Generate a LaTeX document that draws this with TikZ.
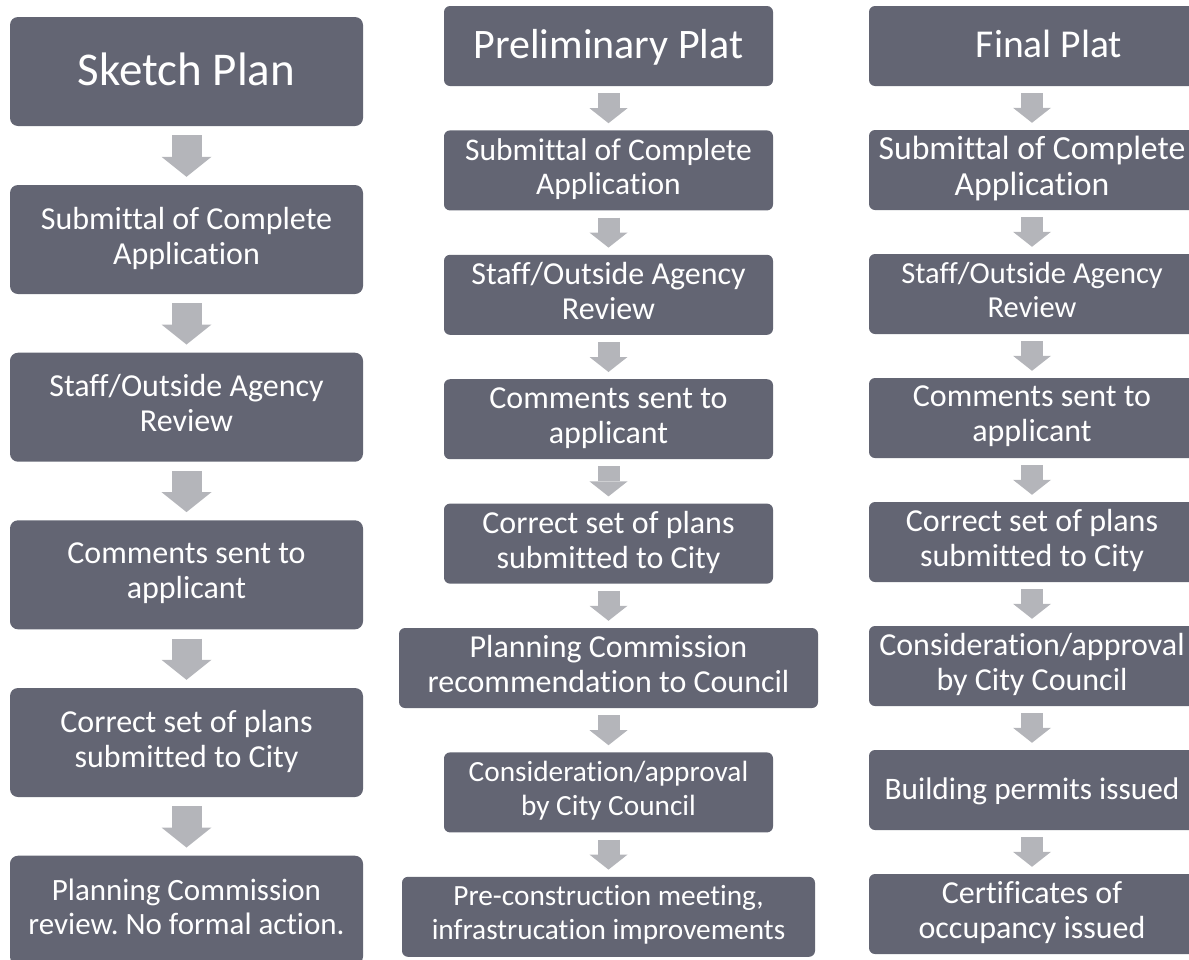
\documentclass[tikz,border=0pt]{standalone}
\usepackage{fontspec}
\setmainfont{Carlito}[Ligatures=NoCommon]
\usetikzlibrary{arrows.meta}
\usepackage{xcolor}
\definecolor{slate}{HTML}{636573}
\definecolor{lightgrey}{HTML}{B4B5BA}
\frenchspacing

\begin{document}
\begin{tikzpicture}[x=1pt, y=1pt]
    % ================= 样式 =================
    \tikzset{
        % 深灰圆角框, 白字
        stepbox/.style={rectangle, rounded corners=6pt, fill=slate, text=white, align=center, inner sep=0pt,
            minimum width=329pt, minimum height=80pt, font=\fontsize{32}{35}\selectfont,
            execute at begin node={\rule[-0.23\baselineskip]{0pt}{\baselineskip}},
            execute at end node={\rule[-0.23\baselineskip]{0pt}{\baselineskip}}},
        % 左列的大框
        sketchbox/.style={stepbox, minimum width=353pt, minimum height=109pt, rounded corners=8pt},
        % 右列的框
        finalbox/.style={stepbox, minimum width=326pt},
        % 浅灰色块箭头
        big_arrow/.style={draw=lightgrey, line width=30pt,
            -{Triangle[length=20pt, width=50pt, line width=0pt]}, shorten <=9pt, shorten >=8pt},
        small_arrow/.style={draw=lightgrey, line width=22pt,
            -{Triangle[length=15pt, width=38pt, line width=0pt]}, shorten <=7pt, shorten >=7pt}
    }

    \useasboundingbox (0,0) rectangle (1189,-959);

    % ================= 左列: Sketch Plan =================
    \begin{scope}[shift={(186.5,0)}]
        \node[sketchbox, font=\fontsize{47}{51}\selectfont] (s1) at (0,-71.5) {Sketch Plan};
        \node[sketchbox] (s2) at (0,-239.5) {Submittal of Complete\\Application};
        \node[sketchbox] (s3) at (0,-407.2) {Staff/Outside Agency\\Review};
        \node[sketchbox] (s4) at (0,-574.8) {Comments sent to\\applicant};
        \node[sketchbox] (s5) at (0,-742.5) {Correct set of plans\\submitted to City};
        \node[sketchbox, font=\fontsize{31}{34}\selectfont] (s6) at (0,-910.2) {Planning Commission\\review. No formal action.};

        \foreach \a/\b in {s1/s2, s2/s3, s3/s4, s4/s5, s5/s6} {
            \draw[big_arrow] (\a) -- (\b);
        }
    \end{scope}

    % ================= 中列: Preliminary Plat =================
    \begin{scope}[shift={(608.5,0)}]
        \node[stepbox, font=\fontsize{42}{45}\selectfont] (p1) at (0,-46) {Preliminary Plat};
        \node[stepbox, font=\fontsize{31.5}{34}\selectfont] (p2) at (0,-170.4) {Submittal of Complete\\Application};
        \node[stepbox] (p3) at (0,-294.8) {Staff/Outside Agency\\Review};
        \node[stepbox] (p4) at (0,-419.2) {Comments sent to\\applicant};
        \node[stepbox] (p5) at (0,-543.6) {Correct set of plans\\submitted to City};
        \node[stepbox, minimum width=419pt, font=\fontsize{32}{35}\selectfont] (p6) at (0,-668) {Planning Commission\\recommendation to Council};
        \node[stepbox, font=\fontsize{29.3}{34}\selectfont] (p7) at (0,-792.4) {Consideration/approval\\by City Council};
        \node[stepbox, minimum width=413pt, font=\fontsize{29.3}{34}\selectfont] (p8) at (0,-916.8) {Pre-construction meeting,\\infrastrucation improvements};

        \foreach \a/\b in {p1/p2, p2/p3, p3/p4, p4/p5, p5/p6, p6/p7, p7/p8} {
            \draw[small_arrow] (\a) -- (\b);
        }
    \end{scope}

    % ================= 右列: Final Plat (右边被裁掉一点) =================
    \begin{scope}[shift={(1032,0)}]
        % 标题框更宽, 文字偏右
        \node[finalbox, minimum width=360pt, font=\fontsize{39.5}{44}\selectfont] (f1) at (17,-46) {Final Plat};
        \node[finalbox, font=\fontsize{33.7}{36}\selectfont] (f2) at (0,-170) {Submittal of Complete\\Application};
        \node[finalbox, font=\fontsize{30.5}{34}\selectfont] (f3) at (0,-294) {Staff/Outside Agency\\Review};
        \node[finalbox] (f4) at (0,-418) {Comments sent to\\applicant};
        \node[finalbox] (f5) at (0,-542) {Correct set of plans\\submitted to City};
        \node[finalbox, font=\fontsize{32}{35}\selectfont] (f6) at (0,-666) {Consideration/approval\\by City Council};
        \node[finalbox, font=\fontsize{31.3}{35}\selectfont] (f7) at (0,-790) {Building permits issued};
        \node[finalbox] (f8) at (0,-914) {Certificates of\\occupancy issued};

        \draw[small_arrow] (f1.south -| f2.north) -- (f2);
        \foreach \a/\b in {f2/f3, f3/f4, f4/f5, f5/f6, f6/f7, f7/f8} {
            \draw[small_arrow] (\a) -- (\b);
        }
    \end{scope}
\end{tikzpicture}
\end{document}
